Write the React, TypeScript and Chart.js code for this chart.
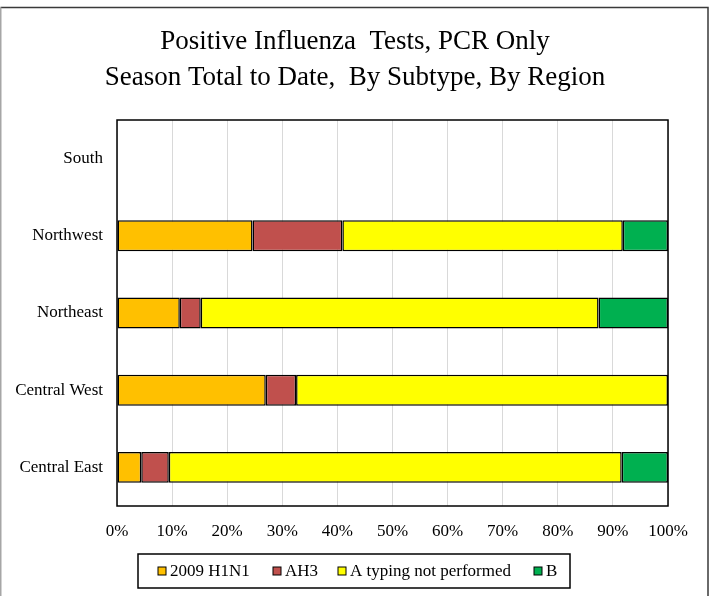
import { useEffect, useRef } from "react";
import { Chart, registerables } from "chart.js";
Chart.register(...registerables);

const titleLines = ["Positive Influenza  Tests, PCR Only", "Season Total to Date,  By Subtype, By Region"];
const regions = ["South", "Northwest", "Northeast", "Central West", "Central East"];
const seriesNames = ["2009 H1N1", "AH3", "A typing not performed", "B"];
const h1n1 = [null, 24.6, 11.4, 27.0, 4.4];
const ah3 = [null, 16.3, 3.8, 5.5, 5.0];
const aNotTyped = [null, 50.9, 72.2, 67.5, 82.2];
const typeB = [null, 8.2, 12.6, null, 8.4];
const seriesColors = ["#FFC000", "#C0504D", "#FFFF00", "#00B050"];
const xTickStep = 10;

const FONT = "'Liberation Serif', 'Times New Roman', serif";

const decor = {
  id: "decor",
  beforeDraw(chart: any) {
    const ctx = chart.ctx;
    ctx.save();
    ctx.fillStyle = "#ffffff";
    ctx.fillRect(0, 0, chart.width, chart.height);
    ctx.restore();
  },
  afterDraw(chart: any) {
    const ctx = chart.ctx;
    const a = chart.chartArea;
    ctx.save();
    // outer border
    ctx.lineWidth = 1.5;
    ctx.strokeStyle = "#3a3a3a";
    ctx.beginPath();
    ctx.moveTo(0.5, 7.5);
    ctx.lineTo(708, 7.5);
    ctx.lineTo(708, 600);
    ctx.stroke();
    ctx.strokeStyle = "#a6a6a6";
    ctx.beginPath();
    ctx.moveTo(0.75, 7.5);
    ctx.lineTo(0.75, 600);
    ctx.stroke();
    // plot frame
    ctx.strokeStyle = "#000000";
    ctx.lineWidth = 1.5;
    ctx.strokeRect(a.left, a.top, a.right - a.left, a.bottom - a.top);
    // title
    ctx.fillStyle = "#000000";
    ctx.font = `27px ${FONT}`;
    ctx.textAlign = "center";
    ctx.textBaseline = "middle";
    ctx.fillText(titleLines[0], 355, 42);
    ctx.fillText(titleLines[1], 355, 78);
    // legend
    ctx.lineWidth = 1.5;
    ctx.strokeStyle = "#000000";
    ctx.strokeRect(138, 554, 432, 34);
    const sq = [158, 273, 338, 534];
    ctx.font = `17px ${FONT}`;
    ctx.textAlign = "left";
    ctx.textBaseline = "middle";
    seriesNames.forEach((name, i) => {
      ctx.fillStyle = seriesColors[i];
      ctx.fillRect(sq[i], 567, 8, 8);
      ctx.lineWidth = 1;
      ctx.strokeStyle = "#000000";
      ctx.strokeRect(sq[i], 567, 8, 8);
      ctx.fillStyle = "#000000";
      ctx.fillText(name, sq[i] + 12, 572);
    });
    ctx.restore();
  },
};

export default function App() {
  const ref = useRef<HTMLCanvasElement>(null);
  useEffect(() => {
    if (!ref.current) return;
    const data = [h1n1, ah3, aNotTyped, typeB];
    const chart = new Chart(ref.current, {
      type: "bar",
      data: {
        labels: regions,
        datasets: seriesNames.map((name, i) => ({
          label: name,
          data: data[i] as any,
          backgroundColor: seriesColors[i],
          borderColor: "#000000",
          borderWidth: 1.5,
          borderSkipped: false,
          categoryPercentage: 0.4,
          barPercentage: 1.0,
        })),
      },
      options: {
        indexAxis: "y",
        responsive: false,
        animation: false,
        layout: { padding: { top: 120, right: 42, bottom: 50, left: 0 } },
        plugins: { legend: { display: false }, title: { display: false }, tooltip: { enabled: false } },
        scales: {
          x: {
            stacked: true,
            min: 0,
            max: 100,
            border: { display: false },
            grid: { color: "#d9d9d9", lineWidth: 1, drawTicks: false },
            ticks: {
              stepSize: xTickStep,
              padding: 15,
              color: "#000000",
              font: { family: FONT, size: 17 },
              callback: (v: any) => v + "%",
            },
            afterFit: (s: any) => { s.height = 40; },
          },
          y: {
            stacked: true,
            border: { display: false },
            grid: { display: false, drawTicks: false },
            ticks: { padding: 14, color: "#000000", font: { family: FONT, size: 17 } },
            afterFit: (s: any) => { s.width = 117; },
          },
        },
      },
      plugins: [decor],
    });
    return () => chart.destroy();
  }, []);
  return (
    <div style={{ position: "absolute", left: 0, top: 0, width: 710, height: 596 }}>
      <canvas ref={ref} width={710} height={596} style={{ display: "block" }} />
    </div>
  );
}
